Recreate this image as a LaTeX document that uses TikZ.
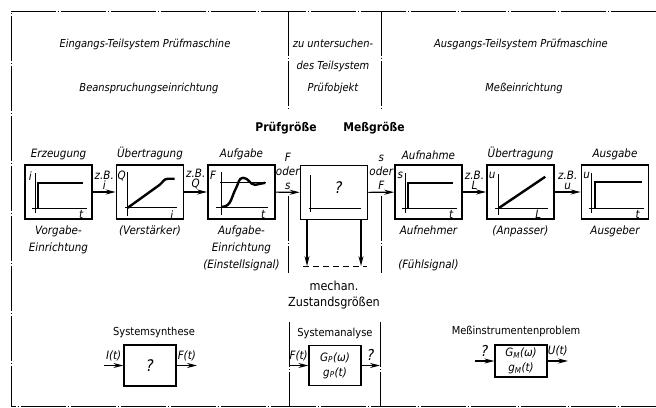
\documentclass[tikz,border=0pt]{standalone}
\usepackage{fontspec}
\setmainfont{DejaVu Sans Condensed}
\usetikzlibrary{positioning,arrows.meta}

\tikzset{
  stufe/.style={draw, line width=1.6pt, minimum width=67pt, minimum height=54pt, inner sep=0pt},
  block/.style={draw, line width=1.3pt, minimum width=52pt, minimum height=40pt, inner sep=0pt, align=center,
    font=\fontsize{11.5}{15}\selectfont\itshape},
  pfeil/.style={-{Stealth[length=10pt,width=5pt]}, line width=1.1pt},
  trenn/.style={line width=0.8pt, dash pattern=on 45pt off 2pt on 1pt off 2pt},
  txt/.style={font=\fontsize{11.5}{17}\selectfont\itshape, align=center, inner sep=1pt},
  kopf/.style={font=\fontsize{11}{22}\selectfont\itshape, align=center, inner sep=1pt},
  eng/.style={font=\fontsize{11.5}{10}\selectfont\itshape, align=center, inner sep=1pt},
  titel/.style={font=\fontsize{11}{16}\selectfont, align=center, inner sep=1pt},
  gross/.style={font=\fontsize{12}{14}\selectfont\bfseries, inner sep=1pt},
  achse/.style={line width=0.7pt},
  kurve/.style={line width=2.4pt},
}

\begin{document}
\begin{tikzpicture}[x=1pt,y=1pt]
  \useasboundingbox (0,0) rectangle (656,407);
  % Rahmen und Trennlinien
  \draw[trenn] (656,396) -- (11,396) -- (11,1) -- (656,1);
  \draw[trenn] (288,396) -- (288,297);
  \draw[trenn] (381,396) -- (381,297);
  \draw[trenn] (288,211) -- (288,134);
  \draw[trenn] (381,211) -- (381,134);
  \draw[trenn] (289,85) -- (289,0);
  \draw[trenn] (380,85) -- (380,0);

  % Kopfzeilen
  \node[kopf] (ein) at (145,363) {Eingangs-Teilsystem Prüfmaschine};
  \node[kopf] (bea) at (149,319) {Beanspruchungseinrichtung};
  \node[kopf] (obj) at (333,341) {zu untersuchen-\\des Teilsystem\\Prüfobjekt};
  \node[kopf] (aus) at (521,363) {Ausgangs-Teilsystem Prüfmaschine};
  \node[kopf] (mei) at (524,319) {Meßeinrichtung};
  \node[gross] (pg) at (286,279) {Prüfgröße};
  \node[gross] (mg) at (374,279) {Meßgröße};

  % Kette der Stufen
  \node[stufe] (b1) at (58.5,215) {};
  \node[stufe] (b2) at (150,215) {};
  \node[stufe] (b3) at (241.5,215) {};
  \node[stufe] (b4) at (334,214.5) {};
  \node[stufe] (b5) at (428.5,215) {};
  \node[stufe] (b6) at (520.5,215) {};
  \node[stufe] (b7) at (615,215) {};

  \node[txt, above=3pt of b1] (b1o) {Erzeugung};
  \node[txt, above=3pt of b2] (b2o) {Übertragung};
  \node[txt, above=3pt of b3] (b3o) {Aufgabe};
  \node[txt, above=3pt of b5] (b5o) {Aufnahme};
  \node[txt, above=3pt of b6] (b6o) {Übertragung};
  \node[txt, above=3pt of b7] (b7o) {Ausgabe};
  \node[txt, below=5pt of b1] (b1u) {Vorgabe-\\Einrichtung};
  \node[txt, below=5pt of b2] (b2u) {(Verstärker)};
  \node[txt, below=5pt of b3] (b3u) {Aufgabe-\\Einrichtung\\(Einstellsignal)};
  \node[txt, below=5pt of b5] (b5u) {Aufnehmer\\~\\(Fühlsignal)};
  \node[txt, below=5pt of b6] (b6u) {(Anpasser)};
  \node[txt, below=5pt of b7] (b7u) {Ausgeber};

  % Kennlinien in den Stufen
  \begin{scope}[shift={(b1.south west)}]
    \draw[achse] (11,7) -- (11,47);
    \draw[achse] (8,11) -- (63,11);
    \draw[kurve] (14,11) -- (14,37) -- (59,37);
    \node[eng] (b1y) at (6,44) {i};
    \node[eng] (b1x) at (57,5) {t};
  \end{scope}
  \begin{scope}[shift={(b2.south west)}]
    \draw[achse] (12,4) -- (12,48);
    \draw[achse] (9,12) -- (61,12);
    \draw[kurve] (12,12) -- (44,35) to[out=38,in=180] (52,41) -- (59,41);
    \node[eng] (b2y) at (6,44) {Q};
    \node[eng] (b2x) at (56,5) {i};
  \end{scope}
  \begin{scope}[shift={(b3.south west)}]
    \draw[achse] (14,5) -- (14,48);
    \draw[achse] (9,12) -- (61,12);
    \draw[achse] (13,37) -- (59,37);
    \draw[kurve] (15,13) to[out=0,in=240] (29,32) to[out=60,in=180] (36,42)
      to[out=0,in=180] (48,35) to[out=0,in=180] (58,37);
    \node[eng] (b3y) at (6,44) {F};
    \node[eng] (b3x) at (56,5) {t};
  \end{scope}
  \begin{scope}[shift={(b4.south west)}]
    \draw[achse] (11,8) -- (11,45);
    \draw[achse] (9,12) -- (61,12);
    \node[font=\fontsize{16}{16}\selectfont\itshape] (b4q) at (39,33) {?};
  \end{scope}
  \begin{scope}[shift={(b5.south west)}]
    \draw[achse] (11,7) -- (11,47);
    \draw[achse] (8,11) -- (63,11);
    \draw[kurve] (14,11) -- (14,37) -- (59,37);
    \node[eng] (b5y) at (6,44) {s};
    \node[eng] (b5x) at (57,5) {t};
  \end{scope}
  \begin{scope}[shift={(b6.south west)}]
    \draw[achse] (12,5) -- (12,46);
    \draw[achse] (9,11) -- (62,11);
    \draw[kurve] (13,12) -- (59,43);
    \node[eng] (b6y) at (6,44) {u};
    \node[eng] (b6x) at (52,5) {L};
  \end{scope}
  \begin{scope}[shift={(b7.south west)}]
    \draw[achse] (11,7) -- (11,47);
    \draw[achse] (8,11) -- (63,11);
    \draw[kurve] (14,11) -- (14,38) -- (61,38);
    \node[eng] (b7y) at (6,44) {u};
    \node[eng] (b7x) at (57,5) {t};
  \end{scope}

  % Signalfluss
  \draw[pfeil] (b1) -- (b2) node[eng, midway, above=1pt] (s12) {z.B.\\i};
  \draw[pfeil] (b2) -- (b3) node[eng, midway, above=1pt] (s23) {z.B.\\Q};
  \draw[pfeil] (b3) -- (b4) node[midway, above=1pt, font=\fontsize{11.5}{14}\selectfont\itshape, align=center, inner sep=1pt] (s34) {F\\oder\\s};
  \draw[pfeil] (b4) -- (b5) node[midway, above=1pt, font=\fontsize{11.5}{14}\selectfont\itshape, align=center, inner sep=1pt] (s45) {s\\oder\\F};
  \draw[pfeil] (b5) -- (b6) node[eng, midway, above=1pt] (s56) {z.B.\\L};
  \draw[pfeil] (b6) -- (b7) node[eng, midway, above=1pt] (s67) {z.B.\\u};

  % mechanische Zustandsgroessen
  \coordinate (z1) at (307,141);
  \coordinate (z2) at (361,141);
  \draw[pfeil] (b4.south -| z1) -- (z1);
  \draw[pfeil] (b4.south -| z2) -- (z2);
  \draw[line width=0.9pt, dash pattern=on 6pt off 4pt] ([xshift=-4pt]z1) -- ([xshift=6pt]z2);
  \node[titel, font=\fontsize{12.5}{16}\selectfont] (mz) at (334,112) {mechan.\\Zustandsgrößen};

  % Systemsynthese
  \node[block, minimum height=41pt, font=\fontsize{16}{16}\selectfont\itshape] (syn) at (150,41.5) {?};
  \node[titel, above=5pt of syn.north, xshift=4pt] (synt) {Systemsynthese};
  \coordinate (syn1) at (104,41.5);
  \coordinate (syn2) at (197,41.5);
  \draw[pfeil] (syn1) -- (syn) node[eng, midway, above=3pt] (synI) {I(t)};
  \draw[pfeil] (syn) -- (syn2) node[eng, midway, above=3pt] (synF) {F(t)};

  % Systemanalyse
  \node[block] (ana) at (335,41.5) {G\textsubscript{P}(ω)\\g\textsubscript{P}(t)};
  \node[titel, above=5pt of ana.north] (anat) {Systemanalyse};
  \coordinate (ana1) at (289,41.5);
  \coordinate (ana2) at (380,41.5);
  \draw[pfeil] (ana1) -- (ana) node[eng, midway, above=3pt] (anaF) {F(t)};
  \draw[pfeil] (ana) -- (ana2) node[midway, above=1pt, font=\fontsize{15}{15}\selectfont\itshape] (anaQ) {?};

  % Messinstrumentenproblem
  \node[block, minimum height=32pt] (mess) at (521,46) {G\textsubscript{M}(ω)\\g\textsubscript{M}(t)};
  \node[titel, above=6pt of mess.north, xshift=-5pt] (messt) {Meßinstrumentenproblem};
  \coordinate (mess1) at (475,46);
  \coordinate (mess2) at (568,46);
  \draw[pfeil] (mess1) -- (mess) node[midway, above=1pt, font=\fontsize{15}{15}\selectfont\itshape] (messQ) {?};
  \draw[pfeil] (mess) -- (mess2) node[eng, midway, above=3pt] (messU) {U(t)};
\end{tikzpicture}
\end{document}
